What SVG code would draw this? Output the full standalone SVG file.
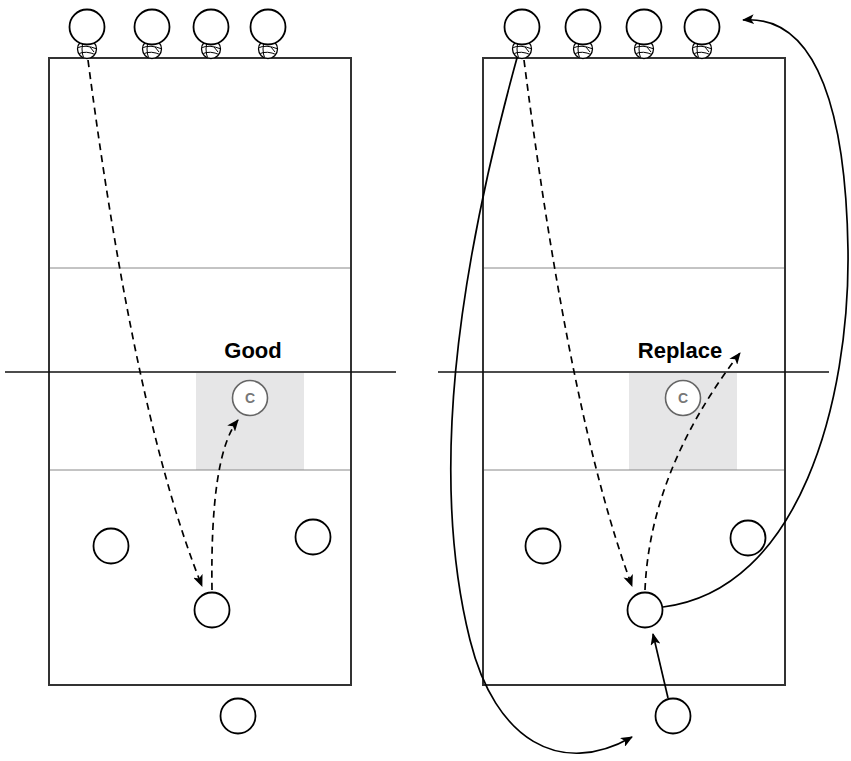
<svg xmlns="http://www.w3.org/2000/svg" xmlns:xlink="http://www.w3.org/1999/xlink" width="851" height="761" viewBox="0 0 851 761">
  <style>
    .court { fill: none; stroke: #333; stroke-width: 2; }
    .attack { stroke: #888; stroke-width: 1; }
    .net { stroke: #111; stroke-width: 1.6; }
    .zone { fill: #e6e6e7; }
    .player { fill: #fff; stroke: #000; stroke-width: 1.8; }
    .setter { fill: #fff; stroke: #666; stroke-width: 1.6; }
    .setter-label { font-family: "Liberation Sans", Arial, sans-serif; font-size: 14px; font-weight: bold; fill: #777; text-anchor: middle; }
    .title { font-family: "Liberation Sans", Arial, sans-serif; font-size: 22px; font-weight: bold; fill: #000; text-anchor: middle; }
    .dash { fill: none; stroke: #000; stroke-width: 1.7; stroke-dasharray: 7 5; }
    .solid { fill: none; stroke: #000; stroke-width: 1.7; }
    .ball-shell { fill: #fff; stroke: #000; stroke-width: 1.3; }
    .ball-seam { fill: none; stroke: #000; stroke-width: 1; }
  </style>
  <defs>
    <marker id="arrow" viewBox="0 0 12 10" refX="11" refY="5" markerWidth="12" markerHeight="10" markerUnits="userSpaceOnUse" orient="auto">
      <path d="M0,0 L12,5 L0,10 L3,5 z" fill="#000"/>
    </marker>
    <clipPath id="ball-clip"><circle cx="0" cy="0" r="9"/></clipPath>
    <g id="ball">
      <circle class="ball-shell" cx="0" cy="0" r="9.5"/>
      <g clip-path="url(#ball-clip)">
        <path class="ball-seam" d="M-10,-1 Q-2,-5 10,0"/>
        <path class="ball-seam" d="M-9,5 Q-1,1 9,6"/>
        <path class="ball-seam" d="M-3,-10 Q-7,0 -3,10"/>
        <path class="ball-seam" d="M3,-2 L7,3"/>
      </g>
    </g>
  </defs>

  <!-- left court -->
  <g id="court-left">
    <rect class="zone" x="196" y="373" width="108" height="97"/>
    <line class="attack" x1="49" y1="268" x2="351" y2="268"/>
    <line class="attack" x1="49" y1="470" x2="351" y2="470"/>
    <rect class="court" x="49" y="58" width="302" height="627"/>
    <line class="net" x1="5" y1="372" x2="396" y2="372"/>
    <text class="title" x="253" y="358">Good</text>
  </g>

  <!-- right court -->
  <g id="court-right">
    <rect class="zone" x="629" y="373" width="108" height="97"/>
    <line class="attack" x1="483" y1="268" x2="785" y2="268"/>
    <line class="attack" x1="483" y1="470" x2="785" y2="470"/>
    <rect class="court" x="483" y="58" width="302" height="627"/>
    <line class="net" x1="438" y1="372" x2="829" y2="372"/>
    <text class="title" x="680" y="358">Replace</text>
  </g>

  <!-- connectors -->
  <g id="connectors">
    <path class="dash" d="M88,60 Q135,420 202,586" marker-end="url(#arrow)"/>
    <path class="dash" d="M212,590 Q210,455 238,420" marker-end="url(#arrow)"/>
    <path class="dash" d="M524,60 Q570,420 632,586" marker-end="url(#arrow)"/>
    <path class="dash" d="M645,590 Q650,470 740,353" marker-end="url(#arrow)"/>
    <path class="solid" d="M520,47 C455,280 430,480 470,640 C495,740 560,778 632,737" marker-end="url(#arrow)"/>
    <path class="solid" d="M663,607 C800,590 850,400 848,250 C846,120 820,14 743,20" marker-end="url(#arrow)"/>
    <path class="solid" d="M668,698 L653,634" marker-end="url(#arrow)"/>
  </g>

  <!-- left court players -->
  <g id="left-server-1"><use xlink:href="#ball" x="87" y="49"/><circle class="player" cx="87" cy="27" r="17.5"/></g>
  <g id="left-server-2"><use xlink:href="#ball" x="152" y="49"/><circle class="player" cx="152" cy="27" r="17.5"/></g>
  <g id="left-server-3"><use xlink:href="#ball" x="211" y="49"/><circle class="player" cx="211" cy="27" r="17.5"/></g>
  <g id="left-server-4"><use xlink:href="#ball" x="268" y="49"/><circle class="player" cx="268" cy="27" r="17.5"/></g>
  <g id="left-setter"><circle class="setter" cx="250" cy="398" r="17.5"/><text class="setter-label" x="250" y="403">C</text></g>
  <g id="left-player-a"><circle class="player" cx="111" cy="546" r="17.5"/></g>
  <g id="left-player-b"><circle class="player" cx="313" cy="537" r="17.5"/></g>
  <g id="left-player-c"><circle class="player" cx="212" cy="610" r="17.5"/></g>
  <g id="left-player-d"><circle class="player" cx="238" cy="716" r="17.5"/></g>

  <!-- right court players -->
  <g id="right-server-1"><use xlink:href="#ball" x="522" y="49"/><circle class="player" cx="522" cy="27" r="17.5"/></g>
  <g id="right-server-2"><use xlink:href="#ball" x="583" y="49"/><circle class="player" cx="583" cy="27" r="17.5"/></g>
  <g id="right-server-3"><use xlink:href="#ball" x="644" y="49"/><circle class="player" cx="644" cy="27" r="17.5"/></g>
  <g id="right-server-4"><use xlink:href="#ball" x="702" y="49"/><circle class="player" cx="702" cy="27" r="17.5"/></g>
  <g id="right-setter"><circle class="setter" cx="683" cy="398" r="17.5"/><text class="setter-label" x="683" y="403">C</text></g>
  <g id="right-player-a"><circle class="player" cx="543" cy="546" r="17.5"/></g>
  <g id="right-player-b"><circle class="player" cx="748" cy="538" r="17.5"/></g>
  <g id="right-player-c"><circle class="player" cx="645" cy="610" r="17.5"/></g>
  <g id="right-player-d"><circle class="player" cx="673" cy="716" r="17.5"/></g>
</svg>
